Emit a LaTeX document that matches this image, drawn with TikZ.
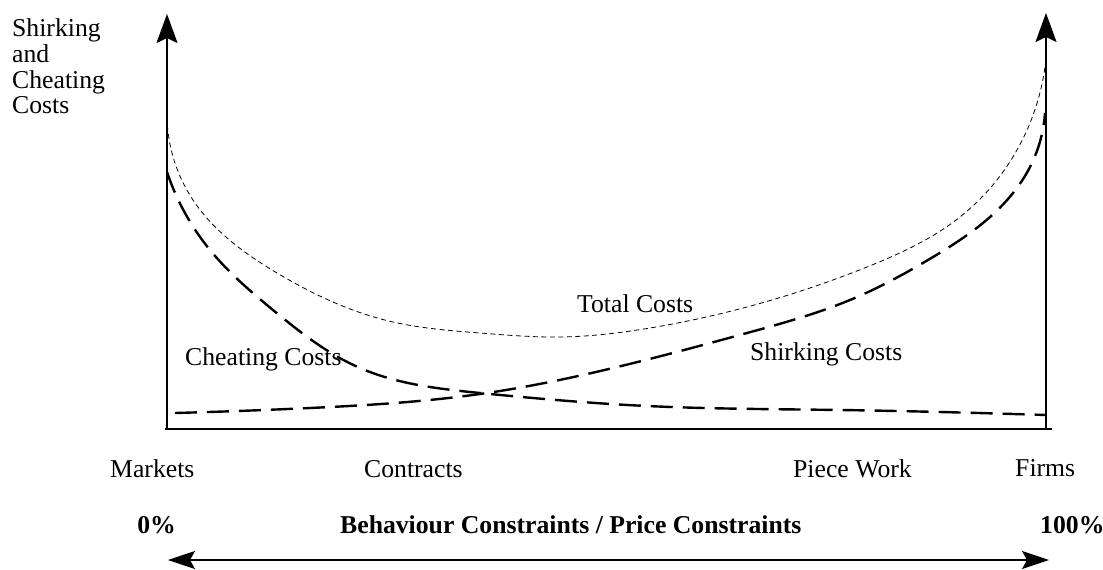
\documentclass[tikz,border=0pt]{standalone}
\usepackage{fontspec}
\setmainfont{Liberation Serif}
\usetikzlibrary{arrows.meta, hobby}

\begin{document}
\begin{tikzpicture}[x=1pt, y=-1pt, font=\fontsize{25.7}{25.8}\selectfont, line join=round, >={Stealth[length=29pt,width=21pt,inset=5pt]}]
	\tikzset{
		lbl/.style={inner sep=0pt, anchor=base west},
		axis/.style={line width=2pt},
		cost/.style={line width=2.4pt, dash pattern=on 22pt off 10pt, use Hobby shortcut},
		total/.style={line width=0.8pt, dash pattern=on 5pt off 3.5pt, use Hobby shortcut},
	}
	\useasboundingbox (0,0) rectangle (1103,570);
	\coordinate (O) at (167,429);
	\coordinate (ytop) at (167,14);
	\coordinate (R) at (1046,429);
	\coordinate (rtop) at (1046,13);
	\coordinate (xl) at (165,429);
	\coordinate (xr) at (1052,429);
	\coordinate (al) at (168,560);
	\coordinate (ar) at (1049,560);
	\draw[axis, ->] (O) -- (ytop);
	\draw[axis, ->] (R) -- (rtop);
	\draw[axis] (xl) -- (xr);
	\draw[line width=1.2pt, <->, >={Stealth[length=27pt,width=18pt,inset=5pt]}] (al) -- (ar);
	\draw[total] (167,117)..(193,200)..(277,273)..(393,322)..(480,333)..(560,337)..(650,328)..(747,307)..(867,267)..(960,217)..(1017,150)..(1045,67);
	\draw[cost] (167,172)..(210,250)..(273,310)..(360,368)..(480,393)..(647,406)..(840,410)..(940,412)..(1046,415);
	\draw[cost] (175,413)..(310,408)..(480,394)..(613,368)..(747,333)..(850,300)..(933,257)..(990,217)..(1030,167)..(1045,113);
	\node[lbl, anchor=north west, align=left] (ylab) at (12,18.5) {Shirking\\and\\Cheating\\Costs};
	\node[lbl] (tot) at (577,312) {Total Costs};
	\node[lbl] (cheat) at (185,365) {Cheating Costs};
	\node[lbl] (shirk) at (750,360) {Shirking Costs};
	\node[lbl] (mkt) at (110,477) {Markets};
	\node[lbl] (con) at (364,477) {Contracts};
	\node[lbl] (pw) at (793,477) {Piece Work};
	\node[lbl] (firm) at (1015,476) {Firms};
	\node[lbl, anchor=base east] (p0) at (176,533) {\bfseries 0\%};
	\node[lbl] (ttl) at (340,533) {\bfseries Behaviour Constraints / Price Constraints};
	\node[lbl] (p100) at (1040,533) {\bfseries 100\%};
\end{tikzpicture}
\end{document}
